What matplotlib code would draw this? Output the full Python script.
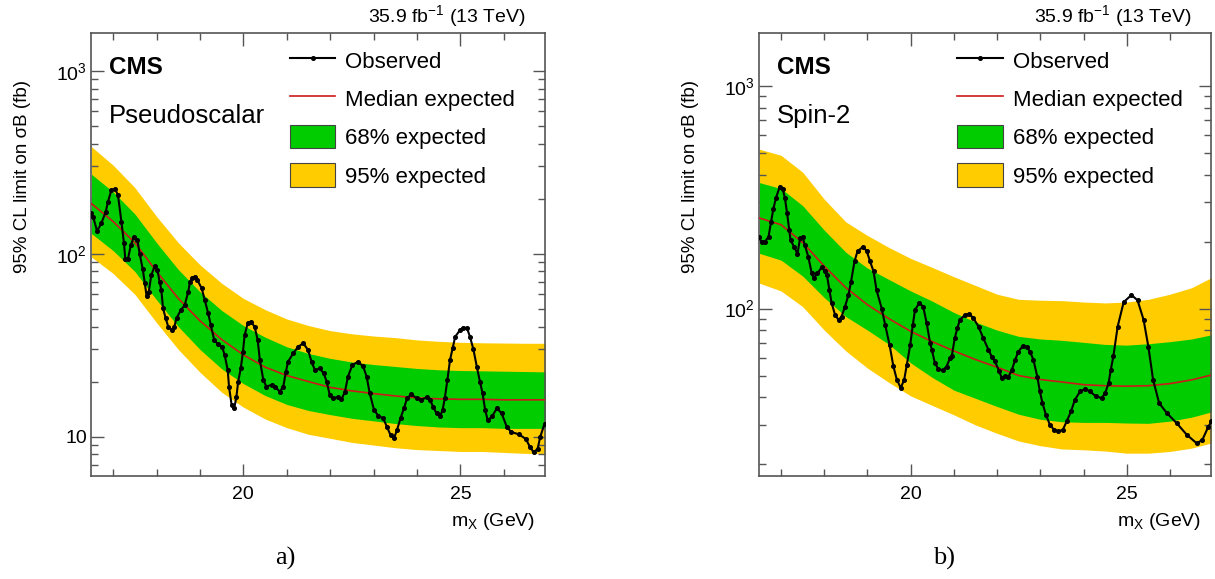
import numpy as np
import matplotlib.pyplot as plt
from matplotlib.lines import Line2D
from matplotlib.patches import Patch
from matplotlib.ticker import FixedLocator, FixedFormatter, LogLocator, MultipleLocator, NullFormatter

plt.rcParams['font.family'] = ['Liberation Sans', 'DejaVu Sans']
plt.rcParams['mathtext.fontset'] = 'custom'
plt.rcParams['mathtext.rm'] = 'Liberation Sans'
plt.rcParams['mathtext.it'] = 'Liberation Sans:italic'
plt.rcParams['mathtext.bf'] = 'Liberation Sans:bold'

# ---- expected bands (both panels share the mass grid) ----
mass = [16.5, 17.0, 17.5, 18.0, 18.5, 19.0, 19.5, 20.0, 20.5, 21.0, 21.5,
        22.0, 22.5, 23.0, 23.5, 24.0, 24.5, 25.0, 25.5, 26.0, 26.5, 27.0]

# a) pseudoscalar
med_a = [188, 150, 115, 80, 57, 43, 34, 28, 24, 21.6, 20, 18.6, 17.8, 17.2,
         16.7, 16.3, 16.1, 16, 16, 15.9, 15.9, 15.9]
g_hi_a = [272, 218, 165, 115, 82, 62, 49, 40.5, 35, 31, 28.5, 26.8, 25.6, 24.8,
          24.2, 23.6, 23.2, 23, 22.9, 22.8, 22.7, 22.6]
g_lo_a = [129, 104, 80, 56, 40, 30, 23.5, 19.5, 16.8, 15, 13.9, 13.2, 12.6, 12.2,
          11.8, 11.5, 11.3, 11.2, 11.2, 11.1, 11.1, 11.1]
y_hi_a = [385, 305, 230, 160, 115, 87, 69, 57, 49.5, 44, 40.5, 38, 36.5, 35.5,
          34.8, 33.8, 33.2, 32.8, 32.6, 32.5, 32.4, 32.4]
y_lo_a = [96, 78, 60, 42, 30, 22.5, 17.5, 14.5, 12.5, 11.2, 10.3, 9.8, 9.3, 9.0,
          8.7, 8.5, 8.4, 8.3, 8.3, 8.2, 8.1, 8.1]

obs_a_x = [16.48, 16.54, 16.63, 16.73, 16.83, 16.88, 16.96, 17.04, 17.11, 17.19,
           17.25, 17.28, 17.34, 17.41, 17.48, 17.56, 17.61, 17.68, 17.73, 17.77,
           17.82, 17.88, 17.96, 18.02, 18.07, 18.11, 18.15, 18.21, 18.27, 18.35,
           18.41, 18.46, 18.56, 18.65, 18.73, 18.77, 18.82, 18.88, 18.94, 19.04,
           19.11, 19.19, 19.25, 19.33, 19.42, 19.51, 19.57, 19.64, 19.67, 19.73,
           19.79, 19.84, 19.88, 19.94, 19.99, 20.03, 20.10, 20.17, 20.26, 20.33,
           20.38, 20.46, 20.53, 20.65, 20.73, 20.84, 20.92, 20.98, 21.03, 21.15,
           21.26, 21.38, 21.49, 21.57, 21.65, 21.76, 21.85, 21.92, 21.99, 22.07,
           22.18, 22.26, 22.34, 22.41, 22.51, 22.64, 22.76, 22.84, 22.91, 23.01,
           23.11, 23.22, 23.31, 23.39, 23.47, 23.54, 23.62, 23.70, 23.77, 23.87,
           23.99, 24.10, 24.22, 24.30, 24.37, 24.45, 24.53, 24.59, 24.64, 24.70,
           24.76, 24.82, 24.88, 25.00, 25.07, 25.15, 25.22, 25.30, 25.38, 25.45,
           25.51, 25.57, 25.63, 25.73, 25.84, 25.95, 26.07, 26.17, 26.35, 26.51,
           26.60, 26.69, 26.78, 26.84, 26.94]
obs_a_y = [166, 159, 133, 147, 170, 192, 223, 226, 210, 150,
           114, 93.5, 93.5, 112, 124, 119, 100, 83, 69, 58.7,
           62, 76.5, 86, 81.5, 70.3, 63.4, 50.3, 44.4, 39.9, 38.3,
           39.9, 44.4, 49.2, 52.5, 62, 70, 74, 74.9, 71.8, 64.7,
           55.8, 47.2, 40.7, 33.7, 32, 31, 27.9, 23.1, 18.7, 14.9,
           14.3, 16.5, 20, 23.6, 29.1, 36, 41.7, 42.5, 39.9, 33.7,
           26.2, 20.4, 18.8, 19.2, 18.8, 17.6, 18.8, 22.7, 25.7, 28.6,
           31, 32.4, 29.8, 25.7, 23.1, 23.6, 22.2, 20, 16.9, 16.2,
           16.5, 16, 17.6, 21.3, 24.6, 25.7, 24.2, 21.3, 17.3, 14,
           13, 12.6, 11.3, 10.2, 9.8, 10.9, 12.6, 14.3, 16.2, 17.1,
           16.2, 15.9, 16.4, 15.9, 14.6, 13.4, 12.9, 14, 16.2, 20.4,
           26.2, 30.4, 35.2, 38.5, 39.5, 39.3, 35.2, 30, 24, 20,
           17.3, 14, 12.3, 12.9, 14.3, 13.4, 11.3, 10.6, 10.3, 9.7,
           8.8, 8.2, 8.6, 10, 11.8]

# b) spin-2
med_b = [255, 238, 198, 155, 124, 104, 90, 79, 71, 64.5, 59, 54.5, 50, 48,
         46.8, 45.5, 45, 44.8, 45, 46, 47.8, 50.5]
g_hi_b = [368, 346, 290, 225, 179, 152, 135, 120, 108, 96, 87, 80, 75, 73,
          72, 70.5, 69, 68.5, 69.5, 71, 73, 76.5]
g_lo_b = [177, 165, 140, 112, 92, 80, 69, 57, 49, 43, 39.5, 36.3, 33.5, 31.8,
          31, 30.8, 30.8, 30.6, 30.5, 31.2, 32.5, 34.5]
y_hi_b = [520, 488, 410, 310, 245, 213, 188, 168, 153, 139, 127, 116, 110, 109,
          108.5, 107, 106, 107, 110, 116, 124, 139]
y_lo_b = [130, 120, 102, 80, 64.5, 54, 46.5, 40.5, 36.7, 33.3, 30, 27.5, 25.4,
          24.2, 23.4, 23.2, 22.9, 22.4, 22.4, 22.8, 23.6, 25]

obs_b_x = [16.48, 16.55, 16.63, 16.71, 16.77, 16.82, 16.88, 16.97, 17.04, 17.09,
           17.14, 17.19, 17.22, 17.30, 17.38, 17.44, 17.50, 17.55, 17.63, 17.71,
           17.76, 17.84, 17.94, 18.02, 18.06, 18.12, 18.17, 18.25, 18.33, 18.40,
           18.48, 18.56, 18.62, 18.70, 18.77, 18.89, 18.98, 19.06, 19.14, 19.21,
           19.33, 19.41, 19.51, 19.60, 19.68, 19.77, 19.85, 19.91, 19.99, 20.05,
           20.10, 20.20, 20.29, 20.37, 20.45, 20.49, 20.56, 20.64, 20.74, 20.83,
           20.91, 20.95, 21.02, 21.08, 21.14, 21.26, 21.36, 21.45, 21.57, 21.68,
           21.80, 21.88, 21.95, 22.05, 22.11, 22.18, 22.26, 22.34, 22.42, 22.49,
           22.59, 22.69, 22.76, 22.84, 22.93, 22.99, 23.05, 23.13, 23.22, 23.32,
           23.41, 23.52, 23.61, 23.71, 23.80, 23.92, 24.04, 24.15, 24.29, 24.42,
           24.50, 24.58, 24.63, 24.69, 24.79, 24.93, 25.11, 25.25, 25.39, 25.50,
           25.61, 25.75, 25.93, 26.16, 26.39, 26.62, 26.75, 26.89, 26.96]
obs_b_y = [209, 200, 200, 210, 246, 279, 313, 353, 344, 313,
           268, 225, 203, 190, 176, 207, 209, 193, 171, 144,
           137, 144, 153, 147, 142, 121, 106, 93.7, 89, 92,
           102, 115, 132, 163, 181, 189, 182, 163, 147, 121,
           100, 84.5, 68.8, 55, 47.9, 44, 47.9, 55.8, 68.8, 84.5,
           98.6, 106, 102, 86, 70, 65.3, 56.9, 53.5, 52.7, 54.9,
           59.9, 60.9, 73.6, 81.6, 89, 93.7, 94.6, 90.6, 83, 73.6,
           65.3, 60.5, 57.9, 52.2, 48.7, 49.9, 49.2, 53, 58.9, 64,
           67.6, 67.2, 64.1, 58.9, 49.5, 42.4, 37.6, 33.3, 30.1, 28.5,
           28.1, 28.5, 31.1, 34.5, 38.9, 42.4, 43.5, 42.4, 40.3, 39.6,
           41.7, 46.2, 53, 60.9, 83, 107, 115, 109, 89, 67.5,
           47.9, 37.6, 33.9, 30.5, 27.1, 24.8, 25.7, 29.5, 31.1]

ytick_vals = [10, 100, 1000]
ytick_labels = ['10', '$10^{2}$', '$10^{3}$']
leg_labels = ['Observed', 'Median expected', '68% expected', '95% expected']
lumi_text = '35.9 fb$^{-1}$ (13 TeV)'
ylab = '95% CL limit on \u03c3B (fb)'
xlab = 'm$_{\\mathregular{X}}$ (GeV)'

green = '#00cc00'
yellow = '#ffcc00'
red = '#cc1a1a'
frame = '#555555'

fig = plt.figure(figsize=(12.15, 5.79), dpi=100)
ax_a = fig.add_axes([0.0749, 0.178, 0.3737, 0.765])
ax_b = fig.add_axes([0.6247, 0.178, 0.372, 0.765])

panels = [
    (ax_a, med_a, g_hi_a, g_lo_a, y_hi_a, y_lo_a, obs_a_x, obs_a_y, (6.1, 1610), 'Pseudoscalar', 'a)', 285),
    (ax_b, med_b, g_hi_b, g_lo_b, y_hi_b, y_lo_b, obs_b_x, obs_b_y, (17.7, 1730), 'Spin-2', 'b)', 944),
]

for ax, med, ghi, glo, yhi, ylo, ox, oy, ylim, model, tag, tagx in panels:
    ax.fill_between(mass, ylo, yhi, color=yellow, lw=0, zorder=1)
    ax.fill_between(mass, glo, ghi, color=green, lw=0, zorder=2)
    ax.plot(mass, med, color=red, lw=1.2, zorder=3)
    ax.plot(ox, oy, color='black', lw=1.5, marker='o', ms=2.6, zorder=4)

    ax.set_yscale('log')
    ax.set_xlim(16.49, 26.95)
    ax.set_ylim(*ylim)

    ax.xaxis.set_major_locator(MultipleLocator(5))
    ax.xaxis.set_minor_locator(MultipleLocator(1))
    ax.yaxis.set_major_locator(FixedLocator(ytick_vals))
    ax.yaxis.set_major_formatter(FixedFormatter(ytick_labels))
    ax.yaxis.set_minor_locator(LogLocator(base=10, subs=np.arange(2, 10)))
    ax.yaxis.set_minor_formatter(NullFormatter())
    ax.tick_params(which='both', direction='in', top=True, right=True,
                   color=frame, labelsize=14)
    ax.tick_params(which='major', length=9, width=1.0)
    ax.tick_params(which='minor', length=5, width=1.0)
    ax.tick_params(axis='x', which='major', pad=7)
    ax.tick_params(axis='y', which='major', pad=3)
    for s in ax.spines.values():
        s.set_color(frame)
        s.set_linewidth(1.2)

    ax.set_ylabel(ylab, fontsize=13.5, loc='top')
    ax.yaxis.set_label_coords(-0.132, 0.895)
    ax.set_xlabel(xlab, fontsize=14, loc='right')
    ax.xaxis.set_label_coords(0.978, -0.080)

    ax.text(0.040, 0.921, 'CMS', transform=ax.transAxes, fontsize=17.5,
            fontweight='bold', va='center', ha='left')
    ax.text(0.040, 0.812, model, transform=ax.transAxes, fontsize=18.5,
            va='center', ha='left')
    ax.text(0.957, 1.010, lumi_text, transform=ax.transAxes, fontsize=14,
            va='bottom', ha='right')

    handles = [Line2D([], [], color='black', lw=1.5, marker='o', ms=2.6),
               Line2D([], [], color=red, lw=1.2),
               Patch(facecolor=green, edgecolor='#444444', lw=0.8),
               Patch(facecolor=yellow, edgecolor='#444444', lw=0.8)]
    ax.legend(handles, leg_labels, loc='upper left', bbox_to_anchor=(0.438, 0.965),
              frameon=False, fontsize=16, handlelength=2.05, handleheight=1.23,
              labelspacing=0.64, handletextpad=0.45, borderpad=0, borderaxespad=0)

    fig.text(tagx / 1215, 1 - 558 / 579, tag, fontsize=19,
             family=['Liberation Serif', 'DejaVu Serif'], ha='center', va='center')

fig.savefig('out.png', dpi=100)
